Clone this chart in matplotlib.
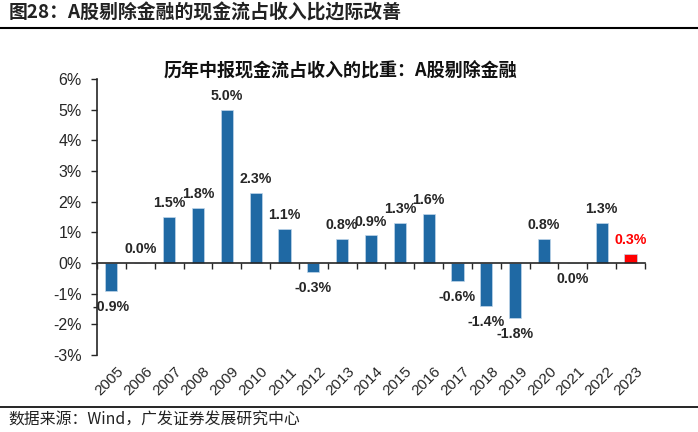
import matplotlib
matplotlib.use("Agg")
import matplotlib.pyplot as plt
from matplotlib.ticker import FuncFormatter
import numpy as np

plt.rcParams['font.family'] = ['Liberation Sans', 'Noto Sans CJK SC', 'DejaVu Sans']

# data
years = ['2005', '2006', '2007', '2008', '2009', '2010', '2011', '2012', '2013', '2014',
         '2015', '2016', '2017', '2018', '2019', '2020', '2021', '2022', '2023']
values = [-0.9, 0.0, 1.5, 1.8, 5.0, 2.3, 1.1, -0.3, 0.8, 0.9,
          1.3, 1.6, -0.6, -1.4, -1.8, 0.8, 0.0, 1.3, 0.3]
highlight_year = '2023'
labels_below = {'2021'}

header = '图28：A股剔除金融的现金流占收入比边际改善'
chart_title = '历年中报现金流占收入的比重：A股剔除金融'
source = '数据来源：Wind，广发证券发展研究中心'

blue = '#1F69A4'
red = '#FF0000'

fig = plt.figure(figsize=(6.98, 4.32), dpi=100)
ax = fig.add_axes([0.139, 0.178, 0.785, 0.639])

x = np.arange(len(years))
colors = [red if y == highlight_year else blue for y in years]
ax.bar(x, values, width=0.42, color=colors, edgecolor='#BFD6EA', linewidth=0.5, zorder=2)

for xi, yr, v, c in zip(x, years, values, colors):
    below = v < 0 or yr in labels_below
    off = -11.5 if below else 10
    ax.annotate(f'{v:.1f}%', xy=(xi, v), xytext=(0, off), textcoords='offset points',
                ha='center', va='center', fontsize=10.2, fontweight='bold',
                color=red if c == red else '#262626')

ax.set_xlim(-0.5, len(years) - 0.5)
ax.set_ylim(-3, 6)
ax.set_yticks(range(-3, 7))
ax.yaxis.set_major_formatter(FuncFormatter(lambda v, p: f'{int(v)}%'))
ax.tick_params(axis='y', direction='out', length=4, width=1, labelsize=11.5, pad=7,
               colors='#262626')

ax.spines['top'].set_visible(False)
ax.spines['right'].set_visible(False)
ax.spines['left'].set_linewidth(1.2)
ax.spines['bottom'].set_position(('data', 0))
ax.spines['bottom'].set_linewidth(1.2)
ax.spines['left'].set_color('#262626')
ax.spines['bottom'].set_color('#262626')

ax.set_xticks(x)
ax.set_xticklabels(years, rotation=45, ha='right', rotation_mode='anchor')
ax.set_xticks(np.arange(len(years) + 1) - 0.5, minor=True)
ax.tick_params(axis='x', which='major', length=0, labelsize=11, pad=73, colors='#262626')
ax.tick_params(axis='x', which='minor', direction='out', length=4, width=1, color='#262626')
for lbl in ax.get_xticklabels():
    lbl.set_transform(lbl.get_transform() + matplotlib.transforms.ScaledTranslation(5 / 100, 0, fig.dpi_scale_trans))

fig.text(0.012, 0.970, header, fontsize=13.6, fontweight='bold', color='#222222',
         ha='left', va='center', family=['Noto Sans CJK SC', 'DejaVu Sans'])
fig.add_artist(plt.Line2D([0, 1], [0.935, 0.935], color='black', linewidth=1.5))

fig.text(0.487, 0.835, chart_title, fontsize=13, fontweight='bold', color='#111111',
         ha='center', va='center', family=['Noto Sans CJK SC', 'DejaVu Sans'])

fig.add_artist(plt.Line2D([0, 1], [0.058, 0.058], color='black', linewidth=1.2))
fig.text(0.012, 0.028, source, fontsize=11.4, color='#222222', ha='left', va='center',
         family=['Noto Sans CJK SC', 'DejaVu Sans'])

fig.savefig('out.png', dpi=100)
